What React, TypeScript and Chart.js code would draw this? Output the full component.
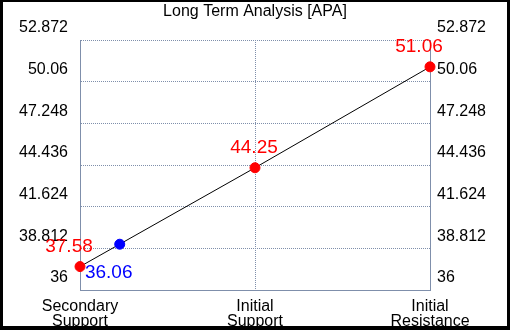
import React, { useEffect, useRef } from "react";
import { Chart, registerables } from "chart.js";

Chart.register(...registerables);

const titleText = "Long Term Analysis [APA]";
const categories: string[][] = [["Secondary", "Support"], ["Initial", "Support"], ["Initial", "Resistance"]];
const levelValues = [37.58, 44.25, 51.06];
const levelLabels = ["37.58", "44.25", "51.06"];
const currentPos = 0.227;
const currentValue = 39.09;
const currentLabel = "36.06";
const yTicks = [36, 38.812, 41.624, 44.436, 47.248, 50.06, 52.872];
const yTickLabels = ["36", "38.812", "41.624", "44.436", "47.248", "50.06", "52.872"];

const AXIS = "#7f8fab";

const labelPlugin = {
  id: "pointLabels",
  afterDatasetsDraw(chart: any) {
    const ctx = chart.ctx;
    const items: { ds: number; i: number; text: string; color: string; dx: number; dy: number }[] = [
      { ds: 1, i: 0, text: levelLabels[0], color: "#ff0000", dx: -11, dy: -20 },
      { ds: 1, i: 1, text: levelLabels[1], color: "#ff0000", dx: -1, dy: -20 },
      { ds: 1, i: 2, text: levelLabels[2], color: "#ff0000", dx: -11, dy: -20 },
      { ds: 0, i: 0, text: currentLabel, color: "#0000ff", dx: -11, dy: 29 },
    ];
    ctx.save();
    ctx.font = "19px 'Liberation Sans', Arial, sans-serif";
    ctx.textAlign = "center";
    ctx.textBaseline = "middle";
    for (const it of items) {
      const el = chart.getDatasetMeta(it.ds).data[it.i];
      if (!el) continue;
      ctx.fillStyle = it.color;
      ctx.fillText(it.text, el.x + it.dx, el.y + it.dy);
    }
    ctx.restore();
  },
};

export default function App() {
  const ref = useRef<HTMLCanvasElement | null>(null);
  useEffect(() => {
    if (!ref.current) return;
    Chart.defaults.font.family = "'Liberation Sans', Arial, sans-serif";
    const chart = new Chart(ref.current, {
      type: "scatter",
      data: {
        datasets: [
          {
            data: [{ x: currentPos, y: currentValue }],
            backgroundColor: "#0000ff",
            borderColor: "#0000ff",
            pointRadius: 5,
            pointHoverRadius: 5,
            showLine: false,
            clip: false,
          } as any,
          {
            data: levelValues.map((v, i) => ({ x: i, y: v })),
            borderColor: "#000000",
            borderWidth: 1,
            backgroundColor: "#ff0000",
            pointBackgroundColor: "#ff0000",
            pointBorderColor: "#ff0000",
            pointRadius: 5,
            pointHoverRadius: 5,
            showLine: true,
            clip: false,
          } as any,
        ],
      },
      options: {
        animation: false,
        responsive: false,
        maintainAspectRatio: false,
        layout: { padding: 0 },
        plugins: {
          legend: { display: false },
          tooltip: { enabled: false },
          title: {
            display: true,
            text: titleText,
            color: "#000000",
            font: { size: 16, weight: "normal", lineHeight: 1.2 },
            padding: { top: 0, bottom: 18.8 },
          },
        },
        scales: {
          x: {
            type: "linear",
            min: 0,
            max: 2,
            afterBuildTicks: (s: any) => {
              s.ticks = categories.map((_, i) => ({ value: i }));
            },
            afterFit: (s: any) => {
              s.height = 36;
            },
            ticks: {
              color: "#000000",
              font: { size: 16, lineHeight: 0.94 },
              padding: 9,
              maxRotation: 0,
              autoSkip: false,
              callback: (v: any) => categories[Math.round(Number(v))] ?? "",
            },
            grid: { color: AXIS, drawTicks: false, lineWidth: 1 },
            border: { display: true, color: AXIS, width: 1, dash: [1, 1] },
          },
          y: {
            type: "linear",
            position: "left",
            min: yTicks[0],
            max: yTicks[yTicks.length - 1],
            afterBuildTicks: (s: any) => {
              s.ticks = yTicks.map((v) => ({ value: v }));
            },
            afterFit: (s: any) => {
              s.width = 77;
            },
            ticks: {
              color: "#000000",
              font: { size: 16 },
              padding: 12,
              labelOffset: -12,
              autoSkip: false,
              callback: (_v: any, i: number) => yTickLabels[i],
            },
            grid: { color: AXIS, drawTicks: false, lineWidth: 1 },
            border: { display: true, color: AXIS, width: 1, dash: [1, 1] },
          },
          y2: {
            type: "linear",
            position: "right",
            min: yTicks[0],
            max: yTicks[yTicks.length - 1],
            afterBuildTicks: (s: any) => {
              s.ticks = yTicks.map((v) => ({ value: v }));
            },
            afterFit: (s: any) => {
              s.width = 77;
            },
            ticks: {
              color: "#000000",
              font: { size: 16 },
              padding: 7,
              labelOffset: -12,
              autoSkip: false,
              callback: (_v: any, i: number) => yTickLabels[i],
            },
            grid: { display: false, drawTicks: false },
            border: { display: true, color: AXIS, width: 1 },
          },
        },
      } as any,
      plugins: [labelPlugin],
    });
    return () => chart.destroy();
  }, []);

  return (
    <div style={{ position: "fixed", left: 0, top: 0, width: 510, height: 330, background: "#000000" }}>
      <div style={{ position: "absolute", left: 3, top: 2, width: 504, height: 324, background: "#ffffff" }}>
        <canvas ref={ref} width={504} height={324} style={{ display: "block", width: 504, height: 324 }} />
      </div>
    </div>
  );
}
